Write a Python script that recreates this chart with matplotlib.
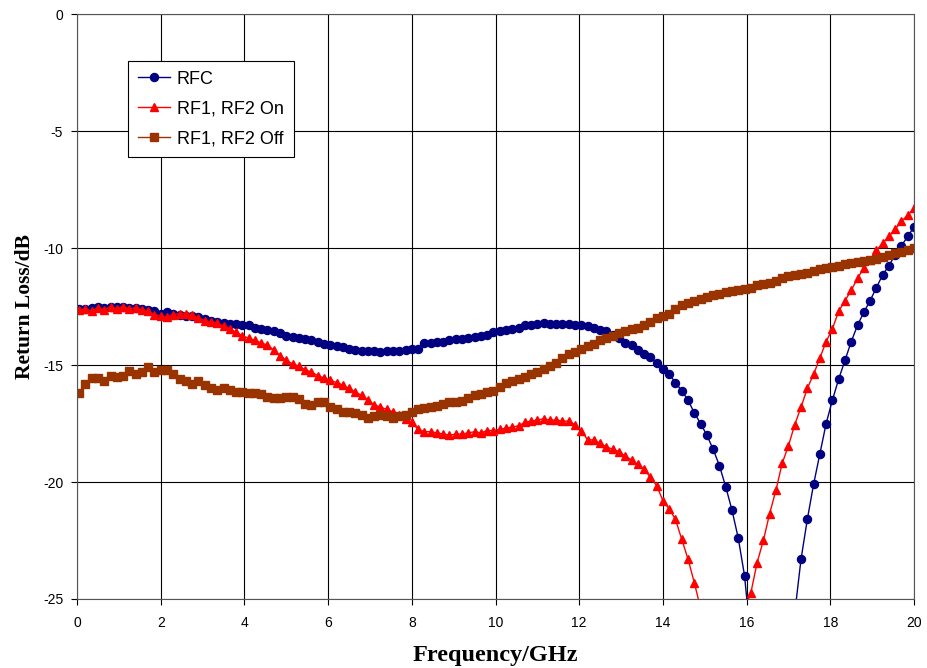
import numpy as np
import matplotlib
matplotlib.use("Agg")
import matplotlib.pyplot as plt

plt.rcParams["axes.unicode_minus"] = False

# 134 sweep points, 0.05 .. 20 GHz
freq = np.linspace(0.05, 20.0, 134)

rfc = [-12.6, -12.6, -12.55, -12.5, -12.55, -12.5, -12.5, -12.5, -12.55, -12.55,
       -12.6, -12.65, -12.7, -12.8, -12.75, -12.8, -12.85, -12.9, -12.9, -12.95,
       -13.05, -13.1, -13.15, -13.2, -13.25, -13.25, -13.3, -13.3, -13.4, -13.45,
       -13.5, -13.55, -13.65, -13.75, -13.8, -13.85, -13.9, -13.95, -14.0, -14.1,
       -14.15, -14.2, -14.25, -14.3, -14.35, -14.4, -14.4, -14.4, -14.45, -14.4,
       -14.4, -14.4, -14.35, -14.3, -14.3, -14.05, -14.05, -14.0, -14.0, -13.95,
       -13.9, -13.9, -13.85, -13.8, -13.75, -13.7, -13.6, -13.55, -13.5, -13.45,
       -13.4, -13.3, -13.3, -13.25, -13.2, -13.25, -13.25, -13.25, -13.25, -13.3,
       -13.3, -13.35, -13.4, -13.5, -13.55, -13.7, -13.85, -14.05, -14.15, -14.35,
       -14.55, -14.65, -14.9, -15.15, -15.4, -15.75, -16.1, -16.5, -17.05, -17.5,
       -18.0, -18.6, -19.3, -20.2, -21.2, -22.4, -24.0, -26.8, -29.5, -33.0,
       -38.0, -36.0, -31.0, -27.8, -25.6, -23.3, -21.6, -20.1, -18.8, -17.5,
       -16.5, -15.6, -14.8, -14.0, -13.3, -12.75, -12.25, -11.7, -11.15, -10.75,
       -10.3, -9.9, -9.5, -9.1]

rf_on = [-12.65, -12.6, -12.7, -12.55, -12.65, -12.5, -12.6, -12.5, -12.6, -12.55,
         -12.65, -12.7, -12.85, -12.9, -12.95, -12.85, -12.8, -12.8, -12.85, -13.0,
         -13.1, -13.15, -13.2, -13.35, -13.45, -13.6, -13.75, -13.85, -13.95, -14.05,
         -14.15, -14.35, -14.6, -14.8, -14.95, -15.05, -15.2, -15.3, -15.45, -15.55,
         -15.65, -15.75, -15.85, -16.0, -16.15, -16.3, -16.5, -16.7, -16.8, -16.9,
         -17.0, -17.15, -17.3, -17.45, -17.75, -17.85, -17.85, -17.9, -17.95, -18.0,
         -17.95, -17.95, -17.9, -17.85, -17.9, -17.8, -17.8, -17.75, -17.7, -17.65,
         -17.6, -17.45, -17.4, -17.35, -17.3, -17.35, -17.35, -17.4, -17.4, -17.55,
         -17.8, -18.2, -18.2, -18.35, -18.5, -18.6, -18.7, -18.9, -19.05, -19.25,
         -19.45, -19.8, -20.15, -20.8, -21.15, -21.6, -22.45, -23.3, -24.3, -25.4,
         -26.5, -28.0, -31.0, -35.0, -32.0, -28.0, -25.4, -24.75, -23.45, -22.5,
         -21.35, -20.35, -19.2, -18.45, -17.55, -16.8, -16.0, -15.4, -14.7, -14.0,
         -13.45, -12.7, -12.25, -11.8, -11.3, -10.85, -10.5, -10.1, -9.8, -9.5,
         -9.2, -8.85, -8.6, -8.3]

rf_off = [-16.2, -15.8, -15.55, -15.55, -15.7, -15.45, -15.5, -15.45, -15.25, -15.4,
          -15.3, -15.1, -15.3, -15.2, -15.2, -15.4, -15.6, -15.7, -15.8, -15.7,
          -15.85, -16.0, -16.05, -16.0, -16.05, -16.15, -16.15, -16.2, -16.2, -16.25,
          -16.35, -16.4, -16.4, -16.35, -16.35, -16.45, -16.65, -16.7, -16.6, -16.6,
          -16.8, -16.9, -17.0, -17.0, -17.05, -17.15, -17.25, -17.2, -17.15, -17.2,
          -17.25, -17.2, -17.15, -17.0, -16.9, -16.85, -16.8, -16.75, -16.65, -16.6,
          -16.6, -16.55, -16.4, -16.3, -16.25, -16.15, -16.1, -15.95, -15.75, -15.7,
          -15.6, -15.5, -15.4, -15.3, -15.15, -15.05, -14.9, -14.7, -14.55, -14.45,
          -14.3, -14.2, -14.1, -13.95, -13.85, -13.75, -13.65, -13.55, -13.45, -13.4,
          -13.3, -13.15, -13.0, -12.9, -12.8, -12.6, -12.45, -12.35, -12.25, -12.2,
          -12.1, -12.0, -11.95, -11.9, -11.85, -11.8, -11.75, -11.7, -11.6, -11.55,
          -11.5, -11.4, -11.3, -11.2, -11.15, -11.1, -11.05, -11.0, -10.9, -10.85,
          -10.8, -10.75, -10.7, -10.65, -10.6, -10.55, -10.5, -10.45, -10.4, -10.3,
          -10.2, -10.15, -10.1, -10.0]

labels = ["RFC", "RF1, RF2 On", "RF1, RF2 Off"]
xticks = list(range(0, 21, 2))
yticks = list(range(-25, 1, 5))

fig = plt.figure(figsize=(9.27, 6.68), dpi=100)
ax = fig.add_axes([0.0831, 0.1033, 0.9029, 0.8757])

ax.plot(freq, rfc, color="#000080", marker="o", markersize=5.8, lw=1.0, label=labels[0])
ax.plot(freq, rf_on, color="#ff0000", marker="^", markersize=6.3, lw=1.0, label=labels[1])
ax.plot(freq, rf_off, color="#993300", marker="s", markersize=5.6, lw=1.0, label=labels[2])

ax.set_xlim(0, 20)
ax.set_ylim(-25, 0)
ax.set_xticks(xticks)
ax.set_yticks(yticks)
ax.grid(True, color="black", lw=0.8)
ax.set_axisbelow(True)
for s in ax.spines.values():
    s.set_color("#555555")
    s.set_linewidth(0.8)
ax.tick_params(direction="out", length=4, width=0.8, labelsize=10)
ax.tick_params(axis="x", pad=8)
ax.tick_params(axis="y", pad=6)
for t in ax.get_xticklabels() + ax.get_yticklabels():
    t.set_family("Liberation Sans")

ax.set_xlabel("Frequency/GHz", family="Liberation Serif", weight="bold", fontsize=17.5, labelpad=11)
ax.set_ylabel("Return Loss/dB", family="Liberation Serif", weight="bold", fontsize=15.5, labelpad=6)

leg = ax.legend(loc="upper left", bbox_to_anchor=(0.061, 0.92), borderaxespad=0, fancybox=False,
                framealpha=1, edgecolor="black", prop={"family": "Liberation Sans", "size": 13},
                handlelength=1.75, borderpad=0.55, labelspacing=0.7, handletextpad=0.4)
leg.get_frame().set_linewidth(0.8)

fig.savefig("out.png", dpi=100)
